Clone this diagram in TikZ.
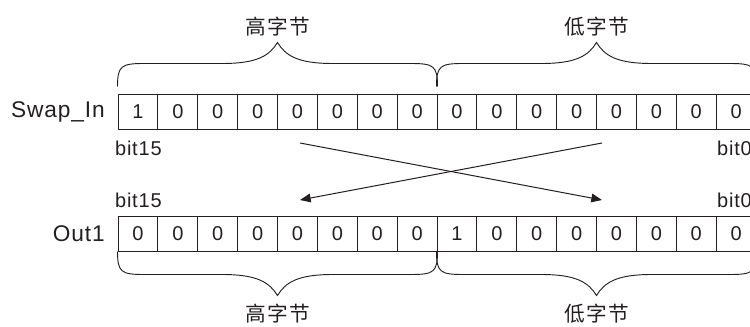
\documentclass[tikz,border=0pt]{standalone}
\usepackage{fontspec}
\setmainfont{Liberation Sans}
\newfontfamily\spacedfont{Liberation Sans}[LetterSpace=4]
\newfontfamily\cjkfont{Noto Sans CJK SC}[LetterSpace=6]
\usepackage{xcolor}
\usepackage{tikz}
\usetikzlibrary{arrows.meta, positioning, calc}

\definecolor{inkgray}{RGB}{35,31,32}

\begin{document}
\begin{tikzpicture}[
    x=0.75pt, y=0.75pt,
    cell/.style={rectangle, draw=inkgray, line width=0.75pt, minimum width=29.9pt, minimum height=26.25pt, inner sep=0pt, font=\fontsize{15}{15}\selectfont, text=inkgray},
    rowlabel/.style={font=\spacedfont\fontsize{17}{17}\selectfont, text=inkgray},
    bitlabel/.style={inner sep=0pt, font=\spacedfont\fontsize{15}{15}\selectfont, text=inkgray},
    bytelabel/.style={font=\cjkfont\fontsize{15.5}{15.5}\selectfont, text=inkgray},
    bytebrace/.style={draw=inkgray, line width=0.7pt, to path={
        (\tikztostart) .. controls ($(\tikztostart)+(0,21*#1)$) and ($(\tikztostart)+(4,23*#1)$) .. ($(\tikztostart)+(27,23*#1)$)
        -- ($(\tikztostart)!0.5!(\tikztotarget)+(-55,23*#1)$)
        .. controls ($(\tikztostart)!0.5!(\tikztotarget)+(-20,23*#1)$) and ($(\tikztostart)!0.5!(\tikztotarget)+(-8,31*#1)$) .. ($(\tikztostart)!0.5!(\tikztotarget)+(0,44*#1)$)
        .. controls ($(\tikztostart)!0.5!(\tikztotarget)+(8,31*#1)$) and ($(\tikztostart)!0.5!(\tikztotarget)+(20,23*#1)$) .. ($(\tikztostart)!0.5!(\tikztotarget)+(55,23*#1)$)
        -- ($(\tikztotarget)+(-27,23*#1)$)
        .. controls ($(\tikztotarget)+(-4,23*#1)$) and ($(\tikztotarget)+(0,21*#1)$) .. (\tikztotarget)}},
    swapline/.style={draw=inkgray, line width=0.75pt, -{Triangle[length=8pt, width=6.5pt]}}
]
    \useasboundingbox (0,0) rectangle (750,326);

    % Register cells
    \foreach \v [count=\i] in {1,0,0,0,0,0,0,0,0,0,0,0,0,0,0,0}
        \node[cell] (in\i) at ({118+(\i-0.5)*39.875}, 214.5) {\v};
    \foreach \v [count=\i] in {0,0,0,0,0,0,0,0,1,0,0,0,0,0,0,0}
        \node[cell] (out\i) at ({118+(\i-0.5)*39.875}, 92.5) {\v};

    \node[rowlabel, left=6pt of in1] (swapin) {Swap\_In};
    \node[rowlabel, left=6pt of out1] (outone) {Out1};

    % Bit labels
    \node[bitlabel, anchor=base west] (inhigh) at ([xshift=-2pt, yshift=-19.5pt]in1.south west) {bit15};
    \node[bitlabel, anchor=base west] (inlow) at ([xshift=1pt, yshift=-19.5pt]in16.south west) {bit0};
    \node[bitlabel, anchor=base west] (outhigh) at ([xshift=-2pt, yshift=6pt]out1.north west) {bit15};
    \node[bitlabel, anchor=base west] (outlow) at ([xshift=1pt, yshift=6pt]out16.north west) {bit0};

    % Byte braces
    \draw[bytebrace=1] ([yshift=5.25pt]in1.north west) to ([yshift=5.25pt]in8.north east);
    \draw[bytebrace=1] ([yshift=5.25pt]in9.north west) to ([yshift=5.25pt]in16.north east);
    \draw[bytebrace=-1] (out1.south west) to (out8.south east);
    \draw[bytebrace=-1] (out9.south west) to (out16.south east);

    \node[bytelabel] (inhi) at ([yshift=50.25pt]in4.north east) {高字节};
    \node[bytelabel] (inlo) at ([yshift=50.25pt]in12.north east) {低字节};
    \node[bytelabel] (outhi) at ([yshift=-46.5pt]out4.south east) {高字节};
    \node[bytelabel] (outlo) at ([yshift=-46.5pt]out12.south east) {低字节};

    % Swap arrows
    \coordinate (hisrc) at (300,183);
    \coordinate (losrc) at (602,183);
    \coordinate (hidst) at (602,126);
    \coordinate (lodst) at (300,126);
    \draw[swapline] (hisrc) -- (hidst);
    \draw[swapline] (losrc) -- (lodst);
\end{tikzpicture}
\end{document}
